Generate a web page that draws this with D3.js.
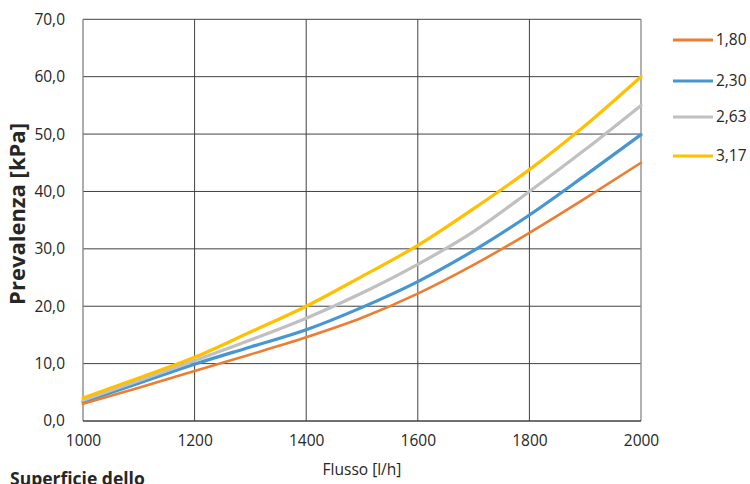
<!DOCTYPE html>
<html><head><meta charset="utf-8">
<script src="https://cdn.jsdelivr.net/npm/d3@7/dist/d3.min.js"></script>
<style>
body{margin:0;background:#fff;}
svg{display:block;font-family:"Open Sans",sans-serif;}
</style></head>
<body><svg id="c" width="750" height="484"></svg>
<script>
const flows = [1000,1100,1200,1300,1400,1500,1600,1700,1800,1900,2000];
const seriesNames = ["1,80","2,30","2,63","3,17"];
const s180 = [3.0,5.8,8.7,11.6,14.6,18.0,22.2,27.2,32.8,38.8,45.0];
const s230 = [3.3,6.6,9.9,12.9,15.9,19.8,24.3,29.7,35.9,42.8,49.9];
const s263 = [3.6,7.0,10.5,14.1,17.9,22.3,27.3,33.0,40.0,47.3,55.0];
const s317 = [4.0,7.5,11.1,15.5,20.0,25.2,30.6,37.0,43.8,51.5,60.0];
const xTicks = [1000,1200,1400,1600,1800,2000];
const yTicks = [0,10,20,30,40,50,60,70];
const colors = ["#ED7D31","#4596D1","#C0C0C0","#FFC000"];

const svg = d3.select("#c");
const L=83, R=641, T=19.3, B=421;
const x = d3.scaleLinear().domain([1000,2000]).range([L,R]);
const y = d3.scaleLinear().domain([0,70]).range([B,T]);
const fmt = v => d3.format(".1f")(v).replace(".", ",");
const FS = 15.5;

// grid
svg.append("g").selectAll("line.h").data(yTicks.slice(1)).join("line")
  .attr("x1",L).attr("x2",R).attr("y1",d=>y(d)).attr("y2",d=>y(d))
  .attr("stroke","#404040").attr("stroke-width",1);
svg.append("g").selectAll("line.v").data(xTicks.slice(1)).join("line")
  .attr("x1",d=>x(d)).attr("x2",d=>x(d)).attr("y1",T).attr("y2",B)
  .attr("stroke",(d,i)=>d===2000?"#888":"#404040").attr("stroke-width",d=>d===2000?1.3:1);
// axes lines
svg.append("line").attr("x1",L).attr("x2",L).attr("y1",T).attr("y2",B).attr("stroke","#808080").attr("stroke-width",1.3);
svg.append("line").attr("x1",L).attr("x2",R).attr("y1",B).attr("y2",B).attr("stroke","#404040").attr("stroke-width",1.3);

// tick labels via axes
const yAxis = d3.axisLeft(y).tickValues(yTicks).tickFormat(fmt).tickSize(0).tickPadding(18);
const gy = svg.append("g").attr("transform",`translate(${L},0)`).call(yAxis);
gy.select(".domain").remove();
gy.selectAll("text").attr("font-size",FS).attr("fill","#262626").attr("font-family","'Open Sans',sans-serif");
const xAxis = d3.axisBottom(x).tickValues(xTicks).tickFormat(d3.format("d")).tickSize(0).tickPadding(14);
const gx = svg.append("g").attr("transform",`translate(0,${B})`).call(xAxis);
gx.select(".domain").remove();
gx.selectAll("text").attr("font-size",FS).attr("fill","#262626").attr("font-family","'Open Sans',sans-serif");

// lines
const data = [s180,s230,s263,s317];
const line = d3.line().x((d,i)=>x(flows[i])).y(d=>y(d)).curve(d3.curveMonotoneX);
[1,2,3,0].forEach(k=>{
  svg.append("path").attr("d",line(data[k])).attr("fill","none")
    .attr("stroke",colors[k]).attr("stroke-width",k===0?2.6:3.2).attr("stroke-linecap","round");
});

// legend
const legY = [40,81,117,156];
seriesNames.forEach((n,i)=>{
  svg.append("line").attr("x1",673).attr("x2",713).attr("y1",legY[i]).attr("y2",legY[i])
    .attr("stroke",colors[i]).attr("stroke-width",3);
  svg.append("text").attr("x",716).attr("y",legY[i]).attr("dy","0.35em")
    .attr("font-size",FS).attr("fill","#262626").text(n);
});

// titles
svg.append("text").attr("transform","translate(25,214) rotate(-90)").attr("text-anchor","middle")
  .attr("font-size",22).attr("font-weight","bold").attr("fill","#262626").text("Prevalenza [kPa]");
svg.append("text").attr("x",362).attr("y",475).attr("text-anchor","middle")
  .attr("font-size",FS).attr("fill","#262626").text("Flusso [l/h]");
svg.append("text").attr("x",10).attr("y",485).attr("font-size",17.5).attr("font-weight","bold")
  .attr("fill","#262626").text("Superficie dello");
</script></body></html>
